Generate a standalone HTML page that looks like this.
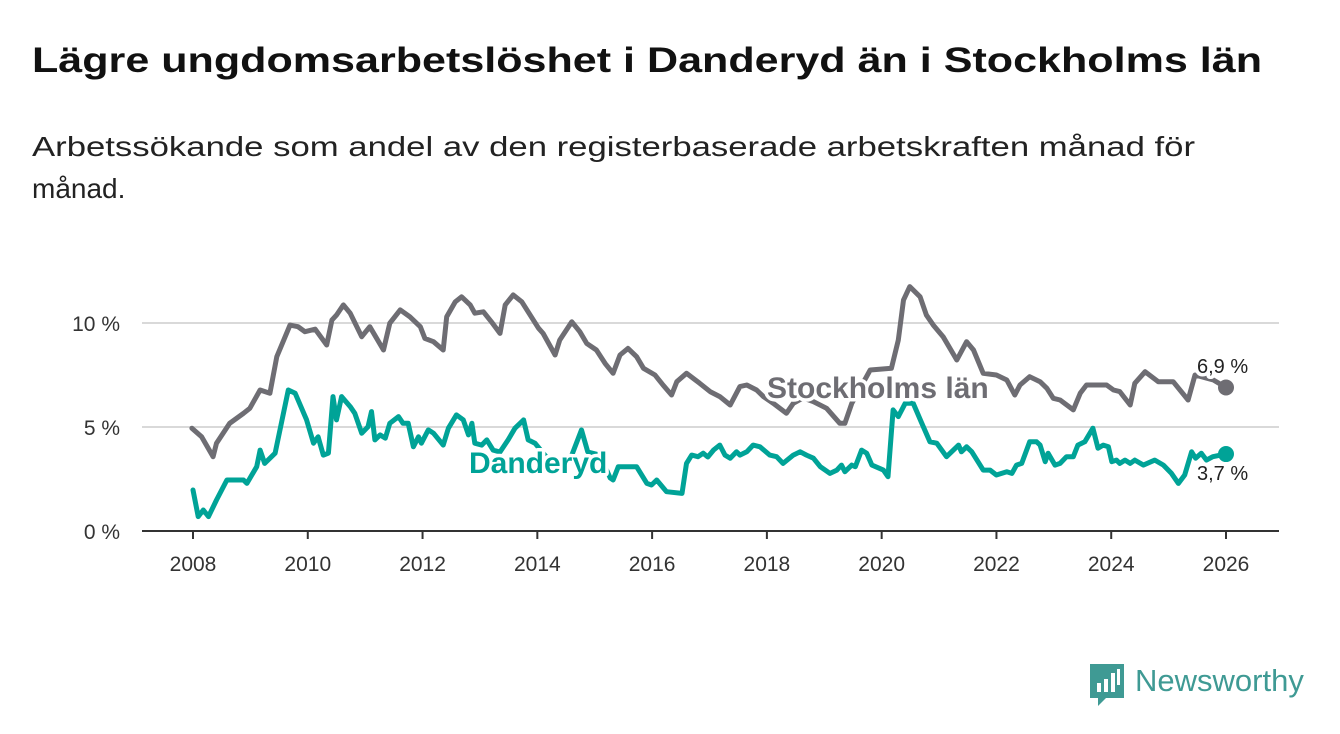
<!DOCTYPE html>
<html><head><meta charset="utf-8"><style>
html,body{margin:0;padding:0;background:#fff;}
svg{display:block;font-family:"Liberation Sans",sans-serif;}
</style></head><body>
<svg id="chart" width="1340" height="734" viewBox="0 0 1340 734">
<text x="32" y="72" font-size="35" font-weight="bold" fill="#111" textLength="1230" lengthAdjust="spacingAndGlyphs">Lägre ungdomsarbetslöshet i Danderyd än i Stockholms län</text>
<text x="32" y="156" font-size="28" fill="#222" textLength="1163" lengthAdjust="spacingAndGlyphs">Arbetssökande som andel av den registerbaserade arbetskraften månad för</text>
<text x="32" y="198" font-size="28" fill="#222">månad.</text>
<g id="grid"></g><g id="xaxis"></g><g id="series"></g><g id="labels"></g>
<g>
<path d="M1090 664 h34 v34 h-18 l-8 8 v-8 h-8 z" fill="#3f9a94"/>
<rect x="1097" y="683" width="4" height="9" fill="#fff"/><rect x="1104" y="679" width="4" height="13" fill="#fff"/><rect x="1111" y="673" width="4" height="19" fill="#fff"/><rect x="1117" y="669" width="3" height="16" fill="#fff"/>
<text x="1135" y="691" font-size="31" fill="#3f9a94" font-weight="500">Newsworthy</text>
</g>
</svg>
<script>
const xTicks=[2008,2010,2012,2014,2016,2018,2020,2022,2024,2026];
const yTicks=[0,5,10];
const yTickLabels=["0 %","5 %","10 %"];
const sthlmYears=[2007.98,2008.15,2008.35,2008.41,2008.64,2008.88,2008.99,2009.17,2009.34,2009.46,2009.69,2009.83,2009.95,2010.13,2010.33,2010.42,2010.5,2010.62,2010.74,2010.94,2011.08,2011.32,2011.43,2011.61,2011.78,2011.96,2012.04,2012.19,2012.36,2012.42,2012.57,2012.68,2012.83,2012.91,2013.06,2013.2,2013.35,2013.44,2013.58,2013.73,2014.02,2014.1,2014.31,2014.39,2014.6,2014.74,2014.86,2015.03,2015.18,2015.32,2015.44,2015.58,2015.73,2015.85,2016.05,2016.19,2016.34,2016.43,2016.6,2016.83,2017.01,2017.18,2017.36,2017.53,2017.65,2017.82,2017.94,2018.11,2018.34,2018.46,2018.63,2018.81,2019.04,2019.27,2019.36,2019.48,2019.8,2020.17,2020.29,2020.38,2020.49,2020.67,2020.78,2020.9,2021.07,2021.31,2021.48,2021.6,2021.77,2022.0,2022.18,2022.32,2022.41,2022.58,2022.76,2022.88,2022.99,2023.11,2023.34,2023.46,2023.57,2023.92,2024.04,2024.15,2024.33,2024.41,2024.59,2024.82,2025.08,2025.34,2025.46,2025.78,2026.0];
const sthlmValues=[4.94,4.53,3.57,4.22,5.18,5.66,5.9,6.78,6.62,8.38,9.9,9.82,9.58,9.7,8.94,10.14,10.38,10.87,10.47,9.34,9.82,8.7,9.99,10.63,10.3,9.82,9.26,9.1,8.7,10.3,11.02,11.26,10.87,10.47,10.54,10.06,9.5,10.87,11.35,11.02,9.75,9.5,8.46,9.18,10.06,9.58,9.02,8.7,8.06,7.58,8.46,8.78,8.38,7.82,7.5,7.02,6.54,7.18,7.58,7.1,6.7,6.46,6.06,6.94,7.02,6.78,6.46,6.14,5.66,6.14,6.4,6.22,5.9,5.18,5.18,6.14,7.74,7.82,9.18,11.1,11.75,11.26,10.38,9.9,9.34,8.22,9.1,8.7,7.58,7.5,7.26,6.54,7.02,7.42,7.18,6.86,6.38,6.3,5.82,6.62,7.02,7.02,6.78,6.7,6.06,7.1,7.66,7.18,7.18,6.3,7.5,7.26,6.9];
const dandYears=[2008.0,2008.09,2008.18,2008.27,2008.41,2008.59,2008.88,2008.94,2009.11,2009.17,2009.25,2009.43,2009.66,2009.78,2009.98,2010.1,2010.18,2010.27,2010.36,2010.44,2010.5,2010.59,2010.74,2010.82,2010.94,2011.05,2011.11,2011.17,2011.26,2011.35,2011.43,2011.58,2011.66,2011.75,2011.84,2011.93,2011.98,2012.1,2012.19,2012.36,2012.45,2012.59,2012.71,2012.8,2012.86,2012.91,2013.03,2013.12,2013.23,2013.35,2013.49,2013.61,2013.76,2013.84,2013.96,2014.13,2014.39,2014.6,2014.77,2014.88,2015.09,2015.27,2015.32,2015.41,2015.73,2015.91,2015.99,2016.08,2016.25,2016.52,2016.6,2016.69,2016.8,2016.89,2016.97,2017.07,2017.18,2017.27,2017.36,2017.47,2017.53,2017.65,2017.76,2017.88,2018.05,2018.17,2018.28,2018.46,2018.58,2018.69,2018.81,2018.93,2019.1,2019.22,2019.3,2019.36,2019.48,2019.54,2019.65,2019.74,2019.83,2020.03,2020.11,2020.2,2020.29,2020.41,2020.55,2020.7,2020.84,2020.96,2021.13,2021.34,2021.39,2021.48,2021.57,2021.77,2021.89,2022.0,2022.18,2022.27,2022.35,2022.44,2022.58,2022.7,2022.76,2022.85,2022.9,2023.02,2023.11,2023.22,2023.34,2023.42,2023.54,2023.68,2023.77,2023.86,2023.95,2024.01,2024.09,2024.15,2024.24,2024.33,2024.41,2024.56,2024.76,2024.91,2025.05,2025.17,2025.28,2025.4,2025.47,2025.57,2025.66,2025.77,2026.0];
const dandValues=[1.97,0.69,1.01,0.69,1.49,2.45,2.45,2.29,3.09,3.89,3.25,3.74,6.78,6.62,5.34,4.22,4.53,3.65,3.74,6.46,5.34,6.46,5.98,5.66,4.7,5.01,5.74,4.38,4.62,4.46,5.18,5.5,5.18,5.18,4.05,4.53,4.22,4.86,4.7,4.13,4.94,5.58,5.34,4.62,5.18,4.22,4.13,4.38,3.89,3.8,4.38,4.94,5.34,4.38,4.22,3.65,2.93,3.65,4.86,3.8,3.65,2.55,2.45,3.09,3.09,2.29,2.21,2.45,1.89,1.81,3.25,3.65,3.57,3.74,3.56,3.89,4.13,3.65,3.5,3.81,3.65,3.81,4.13,4.05,3.65,3.57,3.25,3.65,3.81,3.65,3.5,3.09,2.77,2.93,3.17,2.85,3.17,3.09,3.89,3.74,3.17,2.93,2.61,5.82,5.5,6.14,6.14,5.18,4.29,4.22,3.57,4.13,3.81,4.05,3.81,2.93,2.93,2.69,2.85,2.77,3.17,3.25,4.29,4.29,4.13,3.33,3.74,3.17,3.25,3.57,3.57,4.13,4.29,4.94,3.98,4.13,4.05,3.33,3.41,3.25,3.41,3.25,3.41,3.17,3.41,3.17,2.77,2.29,2.69,3.81,3.5,3.74,3.41,3.57,3.7];
const endLabels=["6,9 %","3,7 %"];

const NS="http://www.w3.org/2000/svg";
const X0=193,X1=1226,Y0=531,PXPER=20.8;
function xs(yr){return X0+(yr-2008)*(X1-X0)/18;}
function ys(v){return Y0-v*PXPER;}
function mk(tag,attrs,parent){const e=document.createElementNS(NS,tag);for(const k in attrs)e.setAttribute(k,attrs[k]);parent.appendChild(e);return e;}
const grid=document.getElementById('grid'),xa=document.getElementById('xaxis'),ser=document.getElementById('series'),lab=document.getElementById('labels');
yTicks.forEach((t,i)=>{
  if(t>0){const l=mk('line',{x1:142,x2:1279,y1:ys(t),y2:ys(t),stroke:'#d9d9d9','stroke-width':2},grid);
  
  }
  const tx=mk('text',{x:120,y:ys(t)+8,'font-size':21,fill:'#333','text-anchor':'end'},grid);tx.textContent=yTickLabels[i];
  
  
});
const ax=mk('line',{x1:142,x2:1279,y1:Y0,y2:Y0,stroke:'#333','stroke-width':2},xa);


xTicks.forEach(t=>{
  const tk=mk('line',{x1:xs(t),x2:xs(t),y1:Y0,y2:Y0+8,stroke:'#333','stroke-width':2},xa);
  
  
  const tx=mk('text',{x:xs(t),y:Y0+40,'font-size':21,fill:'#333','text-anchor':'middle'},xa);tx.textContent=t;
  
  
});
function line(yrs,vals,color,name){
  const d=yrs.map((y,i)=>(i?'L':'M')+xs(y).toFixed(1)+' '+ys(vals[i]).toFixed(1)).join(' ');
  const p=mk('path',{d:d,fill:'none',stroke:color,'stroke-width':5,'stroke-linejoin':'round','stroke-linecap':'round'},ser);
  
  
  const c=mk('circle',{cx:xs(yrs[yrs.length-1]),cy:ys(vals[vals.length-1]),r:8,fill:color},ser);
  
  
}
line(sthlmYears,sthlmValues,'#6e6d73','stockholm-line');
line(dandYears,dandValues,'#00a397','danderyd-line');
function label(txt,x,y,color,size,bold,name,anchor){
  const t=mk('text',{x:x,y:y,'font-size':size,fill:color,'font-weight':bold?'bold':'normal',stroke:'#fff','stroke-width':7,'paint-order':'stroke','stroke-linejoin':'round','text-anchor':anchor||'start'},lab);
  t.textContent=txt;
  
  
}
label('Stockholms län',767,398,'#6e6d73',30,true,'stockholm-label');
label('Danderyd',469,473,'#00a397',30,true,'danderyd-label');
label(endLabels[0],1197,373,'#222',20,false,'stockholm-end-value');
label(endLabels[1],1197,480,'#222',20,false,'danderyd-end-value');
</script>
</body></html>
